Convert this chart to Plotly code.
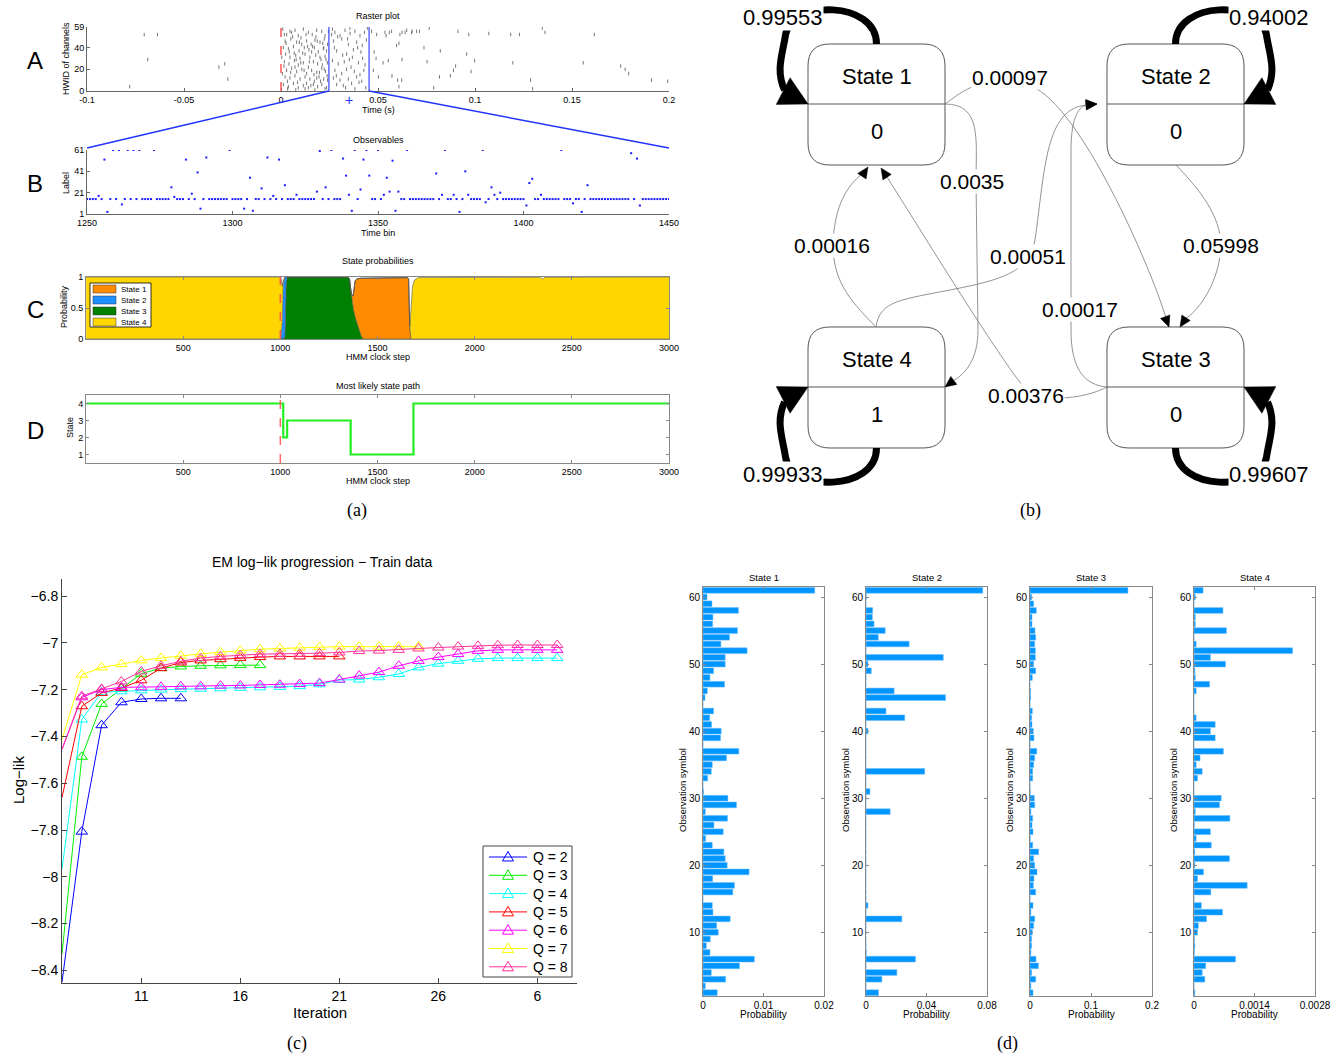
import math
import plotly.graph_objects as go

W, H = 1338, 1055
FONT = "Liberation Sans, Arial, Helvetica, sans-serif"
SERIF = "Liberation Serif, Times New Roman, serif"

# ====================== DATA ======================
# (a) A: raster plot spikes (time in s, channel HWID)
raster_spikes = [
    (-0.078, 4), (-0.0705, 52), (-0.0637, 52), (-0.0687, 29), (-0.032, 22), (-0.029, 25), (-0.0274, 11),
    (0.0017, 52), (0.0029, 52), (0.0046, 55), (0.0072, 56), (0.0089, 51), (0.0115, 57), (0.0141, 54),
    (0.0161, 52), (0.0184, 56), (0.0210, 55), (0.0227, 51),
    (0.0021, 46), (0.0051, 48), (0.0081, 45), (0.0103, 49), (0.0132, 46), (0.0155, 43), (0.0175, 47),
    (0.0201, 45), (0.0223, 48), (0.0240, 43),
    (0.0012, 40), (0.0038, 39), (0.0064, 41), (0.0093, 37), (0.0120, 40), (0.0144, 38), (0.0172, 40),
    (0.0192, 36), (0.0218, 39), (0.0235, 37),
    (0.0024, 34), (0.0046, 31), (0.0076, 33), (0.0098, 30), (0.0124, 34), (0.0149, 31), (0.0179, 33),
    (0.0206, 29), (0.0227, 32),
    (0.0017, 27), (0.0041, 25), (0.0069, 28), (0.0089, 24), (0.0115, 26), (0.0141, 22), (0.0167, 27),
    (0.0189, 25), (0.0213, 24), (0.0239, 26),
    (0.0029, 19), (0.0055, 21), (0.0081, 18), (0.0107, 20), (0.0132, 16), (0.0158, 19), (0.0184, 17),
    (0.0210, 21), (0.0230, 18),
    (0.0021, 13), (0.0046, 12), (0.0072, 14), (0.0098, 11), (0.0124, 13), (0.0149, 11), (0.0172, 9),
    (0.0196, 13), (0.0220, 11), (0.0240, 10),
    (0.0012, 6), (0.0038, 4), (0.0064, 7), (0.0089, 3), (0.0115, 5), (0.0141, 3), (0.0167, 6),
    (0.0189, 4), (0.0210, 6), (0.0235, 3),
    (0.0034, 2), (0.0076, 1), (0.0124, 2), (0.0175, 1), (0.0227, 2),
    (0.0055, 54), (0.0107, 43), (0.0158, 36), (0.0201, 31), (0.0072, 22), (0.0132, 7), (0.0184, 12),
    (0.0007, 16), (0.0004, 31), (0.0223, 20),
    (0.0009, 57), (0.0026, 44), (0.0043, 36), (0.0060, 50), (0.0078, 29), (0.0095, 45), (0.0112, 35),
    (0.0129, 52), (0.0146, 27), (0.0163, 41), (0.0180, 50), (0.0198, 17), (0.0215, 44), (0.0232, 29),
    (0.0244, 55), (0.0015, 23), (0.0033, 9), (0.0050, 17), (0.0068, 35), (0.0085, 8), (0.0102, 26),
    (0.0119, 19), (0.0137, 41), (0.0154, 5), (0.0170, 15), (0.0187, 46), (0.0204, 9), (0.0221, 40),
    (0.0238, 14),
    (0.0261, 52), (0.0278, 54), (0.0304, 51), (0.0330, 56), (0.0356, 53), (0.0381, 55), (0.0407, 51),
    (0.0430, 54), (0.0270, 46), (0.0313, 48), (0.0347, 43), (0.0390, 45), (0.0419, 42),
    (0.0287, 37), (0.0338, 34), (0.0373, 38), (0.0412, 36),
    (0.0265, 28), (0.0295, 25), (0.0326, 27), (0.0361, 22), (0.0399, 26), (0.0433, 24),
    (0.0278, 19), (0.0313, 16), (0.0338, 20), (0.0378, 18), (0.0407, 15),
    (0.0270, 12), (0.0304, 10), (0.0347, 11), (0.0390, 13),
    (0.0287, 6), (0.0321, 5), (0.0364, 7), (0.0416, 9), (0.0437, 3), (0.0381, 2),
    (0.0275, 40), (0.0292, 50), (0.0318, 33), (0.0343, 48), (0.0368, 31), (0.0395, 40), (0.0421, 30),
    (0.0440, 47), (0.0285, 14), (0.0333, 3), (0.0352, 29), (0.0402, 8), (0.0427, 19), (0.0265, 57),
    (0.0355, 58), (0.0445, 58),
    (0.0467, 55), (0.0493, 52), (0.0536, 54), (0.0570, 55), (0.0613, 52), (0.0648, 56), (0.0673, 54),
    (0.0476, 19), (0.0502, 13), (0.0553, 28), (0.0596, 42), (0.0622, 10),
    (0.048, 36), (0.049, 30), (0.0526, 26), (0.0542, 51), (0.0558, 54), (0.0572, 14), (0.0601, 10),
    (0.0608, 4), (0.0624, 54), (0.064, 54), (0.0676, 55), (0.0699, 55), (0.0714, 55), (0.0608, 44),
    (0.0624, 29), (0.0764, 58), (0.0737, 40), (0.0753, 27), (0.0787, 3), (0.0821, 37), (0.0817, 13),
    (0.0873, 14), (0.0889, 19), (0.090, 23), (0.0912, 55), (0.0957, 34), (0.098, 18), (0.0998, 28),
    (0.0968, 52), (0.1071, 53), (0.1184, 52), (0.1195, 26), (0.1229, 52), (0.1297, 2), (0.1286, 10),
    (0.1347, 58), (0.1361, 54), (0.1558, 26), (0.1615, 52), (0.1751, 23), (0.1774, 20), (0.1792, 16),
    (0.191, 10), (0.1993, 9),
]
spike_times = [s[0] for s in raster_spikes]
spike_channels = [s[1] for s in raster_spikes]
zoom_window = [0.0247, 0.0454]
stim_time = 0.0

# (a) B: observables (one label per time bin 1250..1450)
obs_bins = list(range(1250, 1451))
obs_labels = [
    15, 15, 15, 15, 18, 15, 52, 3, 15, 61,
    15, 61, 10, 15, 61, 15, 61, 15, 61, 15,
    15, 15, 15, 61, 15, 15, 15, 15, 15, 26,
    17, 15, 15, 15, 52, 15, 20, 15, 40, 6,
    15, 54, 15, 15, 15, 15, 15, 15, 15, 61,
    15, 15, 15, 15, 6, 15, 35, 4, 15, 15,
    25, 15, 54, 15, 18, 15, 52, 15, 28, 15,
    15, 15, 19, 15, 15, 15, 15, 15, 15, 22,
    60, 15, 26, 15, 61, 15, 15, 15, 53, 37,
    19, 4, 61, 15, 24, 52, 61, 37, 15, 15,
    61, 15, 19, 35, 22, 51, 4, 22, 15, 15,
    61, 15, 15, 15, 15, 15, 15, 15, 15, 15,
    39, 15, 19, 61, 15, 15, 19, 15, 3, 15,
    41, 19, 15, 15, 15, 15, 61, 12, 15, 26,
    19, 15, 21, 15, 15, 15, 15, 15, 15, 15,
    15, 9, 30, 34, 15, 15, 19, 15, 15, 15,
    15, 15, 15, 61, 15, 15, 15, 11, 15, 15,
    3, 15, 28, 15, 15, 15, 15, 15, 15, 15,
    15, 15, 15, 15, 15, 15, 15, 58, 15, 53,
    9, 15, 15, 15, 15, 15, 15, 15, 15, 15,
    15,
]

# (a) C: state probabilities
hmm_steps = [1, 995, 1003, 1010, 1015, 1024, 1030, 1036, 1345, 1356, 1365, 1375, 1385, 1395, 1405,
             1415, 1425, 1652, 1660, 1666, 1672, 1680, 1690, 1710, 2340, 2350, 2360, 3000]
p_state1 = [0, 0, 0, 0, 0, 0, 0, 0, 0, 0, 0, 0.2, 0.58, 0.72, 0.83, 0.92, 0.98,
            0.99, 0.97, 0.2, 0, 0, 0, 0, 0, 0, 0, 0]
p_state2 = [0, 0, 0, 0.3, 0.9, 0.95, 0.1, 0, 0, 0, 0, 0, 0, 0, 0, 0, 0,
            0, 0, 0, 0, 0, 0, 0, 0, 0, 0, 0]
p_state3 = [0, 0, 0, 0, 0, 0.05, 0.9, 1, 1, 0.97, 0.72, 0.5, 0.36, 0.25, 0.15, 0.06, 0,
            0, 0, 0, 0, 0, 0, 0, 0, 0, 0, 0]
p_state4 = [1, 1, 1, 0.55, 0.05, 0, 0, 0, 0, 0, 0, 0, 0, 0, 0, 0, 0,
            0, 0, 0, 0.45, 0.85, 0.95, 0.99, 0.995, 0.965, 0.995, 1.0]
state_names = ["State 1", "State 2", "State 3", "State 4"]
state_colors = ["#FF8C00", "#1E90FF", "#008000", "#FFD700"]

# (a) D: most likely state path
path_steps = [1, 1015, 1035, 1362, 1685, 3000]
path_states = [4, 2, 3, 1, 4, 4]

# (b) HMM diagram
node_labels = ["State 1", "State 2", "State 3", "State 4"]
node_emission = ["0", "0", "0", "1"]
self_probs = ["0.99553", "0.94002", "0.99607", "0.99933"]
edge_probs = ["0.00097", "0.0035", "0.00016", "0.00376", "0.00051", "0.00017", "0.05998"]

# (c) EM log-likelihood progression (iterations start at 7)
em_start_iter = 7
loglik_q2 = [-8.45, -7.807, -7.352, -7.254, -7.240, -7.237, -7.237]
loglik_q3 = [-8.33, -7.487, -7.261, -7.196, -7.132, -7.108, -7.101, -7.098, -7.096, -7.095, -7.095]
loglik_q4 = [-7.966, -7.328, -7.211, -7.207, -7.203, -7.200, -7.198, -7.196, -7.194, -7.192, -7.190,
             -7.188, -7.185, -7.177, -7.159, -7.157, -7.147, -7.133, -7.105, -7.089, -7.077, -7.068,
             -7.065, -7.065, -7.065, -7.065]
loglik_q5 = [-7.661, -7.271, -7.214, -7.193, -7.160, -7.108, -7.084, -7.075, -7.070, -7.064, -7.061,
             -7.058, -7.058, -7.058, -7.058]
loglik_q6 = [-7.455, -7.233, -7.200, -7.190, -7.190, -7.188, -7.186, -7.186, -7.183, -7.182, -7.180,
             -7.179, -7.176, -7.172, -7.157, -7.140, -7.125, -7.098, -7.077, -7.061, -7.048, -7.034,
             -7.030, -7.030, -7.030, -7.030]
loglik_q7 = [-7.413, -7.136, -7.105, -7.091, -7.075, -7.065, -7.055, -7.047, -7.040, -7.033, -7.027,
             -7.024, -7.021, -7.018, -7.016, -7.016, -7.016, -7.016, -7.016]
loglik_q8 = [-7.455, -7.228, -7.197, -7.165, -7.122, -7.098, -7.079, -7.065, -7.058, -7.052, -7.048,
             -7.047, -7.047, -7.044, -7.041, -7.035, -7.033, -7.030, -7.024, -7.020, -7.016, -7.013,
             -7.010, -7.009, -7.009, -7.009]
q_names = ["Q = 2", "Q = 3", "Q = 4", "Q = 5", "Q = 6", "Q = 7", "Q = 8"]
q_colors = ["#0000FF", "#00EE00", "#00FFFF", "#FF0000", "#FF00FF", "#FFFF00", "#FF3399"]
em_ticks = [11, 16, 21, 26, 31]
em_ticktext = ["11", "16", "21", "26", "6"]

# (d) emission probabilities, symbols 1..61
symbols = list(range(1, 62))
emis_state1 = [0.00236, 0.00038, 0.00373, 0.00137, 0.00603, 0.00849, 0.00115, 0.00055, 0.0012, 0.00252,
               0.00225, 0.00449, 0.00164, 0.00153, 0, 0.00493, 0.0052, 0.00159, 0.00762, 0.004,
               0.00367, 0.00345, 0.00153, 0.00044, 0.00334, 0.00181, 0.00405, 0.00038, 0.00553, 0.00411,
               0.0001, 0, 0.00077, 0.00137, 0.00153, 0.00389, 0.00592, 0, 0.0029, 0.00301,
               0.00142, 0.0011, 0.00175, 0, 0.00033, 0.00071, 0.00356, 0.00115, 0.00175, 0.00367,
               0.00367, 0.00729, 0.00296, 0.00438, 0.0057, 0.00159, 0.00164, 0.00586, 0.00148, 0.00066,
               0.01847]
emis_state2 = [0.0083, 0, 0.0105, 0.0204, 0, 0.0327, 0.0002, 0, 0, 0,
               0, 0.0237, 0, 0.0013, 0, 0, 0, 0, 0, 0,
               0, 0, 0, 0, 0, 0, 0, 0.016, 0, 0,
               0.0026, 0, 0, 0.0388, 0, 0, 0, 0, 0, 0.0013,
               0, 0.0256, 0.0132, 0, 0.0526, 0.0186, 0, 0, 0.0035, 0.0013,
               0.0511, 0, 0.0285, 0.0081, 0.0127, 0.0053, 0.0042, 0.0044, 0, 0.0002,
               0.0772]
emis_state3 = [0.0049, 0.0016, 0.0093, 0.0027, 0.0137, 0.0099, 0.0016, 0.0027, 0.0027, 0.0038,
               0.006, 0.0077, 0.0016, 0.0049, 0, 0.0093, 0.0055, 0.0066, 0.0115, 0.0077,
               0.006, 0.0142, 0.0044, 0.0005, 0.0049, 0.0033, 0.0044, 0.0016, 0.0077, 0.0071,
               0.0005, 0, 0.0044, 0.0044, 0.006, 0.0077, 0.011, 0, 0.0066, 0.0055,
               0.0033, 0.0027, 0.0038, 0, 0.0011, 0.0011, 0, 0.0038, 0.0093, 0.006,
               0.0088, 0.0088, 0.0077, 0.0093, 0.0082, 0.0033, 0.0033, 0.0104, 0.006, 0.0027,
               0.1605]
emis_state4 = [0.00002, 0, 0.00025, 0.00019, 0.00027, 0.00096, 0.00001, 0.00002, 0.00001, 0.00008,
               0.0001, 0.00029, 0.00066, 0.00017, 0, 0.00039, 0.00123, 0.00008, 0.00022, 0.00002,
               0.00082, 0.00002, 0.0004, 0.00005, 0.00038, 0.00001, 0.00083, 0.00003, 0.00059, 0.00063,
               0, 0, 0.00008, 0.00019, 0.00005, 0.00014, 0.00068, 0, 0.00049, 0.00038,
               0.00049, 0.00005, 0, 0, 0, 0.00005, 0.00036, 0.00003, 0.00002, 0.00073,
               0.00038, 0.00228, 0.00005, 0, 0.00075, 0.00003, 0.00003, 0.00067, 0, 0.00003,
               0.00021]
emis_ranges = [[0, 0.02], [0, 0.08], [0, 0.2], [0, 0.0028]]
emis_ticks = [[0, 0.01, 0.02], [0, 0.04, 0.08], [0, 0.1, 0.2], [0, 0.0014, 0.0028]]
emis_ticktext = [["0", "0.01", "0.02"], ["0", "0.04", "0.08"], ["0", "0.1", "0.2"], ["0", "0.0014", "0.0028"]]

# ====================== LAYOUT HELPERS ======================
def dom_x(l, r):
    return [l / W, r / W]


def dom_y(t, b):
    return [1 - b / H, 1 - t / H]


def px(x):
    return x / W


def py(y):
    return 1 - y / H


def axis(domain, rng, anchor, tickvals, ticktext=None, size=9, mirror=False, linecolor="#666",
         ticklen=3, **kw):
    d = dict(domain=domain, range=rng, anchor=anchor, showgrid=False, zeroline=False,
             showline=True, linecolor=linecolor, linewidth=1, mirror=("ticks" if mirror else False),
             ticks="inside", ticklen=ticklen, tickcolor=linecolor, tickwidth=1, automargin=False,
             tickvals=tickvals, tickfont=dict(family=FONT, size=size, color="black"))
    if ticktext is not None:
        d["ticktext"] = ticktext
    d.update(kw)
    return d


annotations = []
shapes = []


def text(t, x, y, size, angle=0, family=FONT, color="black", bg=None, xanchor="center"):
    d = dict(text=t, x=px(x), y=py(y), xref="paper", yref="paper", showarrow=False,
             font=dict(size=size, family=family, color=color), textangle=angle,
             xanchor=xanchor, yanchor="middle")
    if bg:
        d["bgcolor"] = bg
        d["borderpad"] = 0
    annotations.append(d)


def P(cmds):
    out = []
    for c in cmds:
        op, nums = c[0], c[1:]
        pts = [f"{px(nums[i]):.5f},{py(nums[i + 1]):.5f}" for i in range(0, len(nums), 2)]
        out.append((op + " " + " ".join(pts)).strip())
    return " ".join(out)


def path_shape(cmds, color="#666", width=0.8, fill=None, layer="above"):
    s = dict(type="path", path=P(cmds), xref="paper", yref="paper",
             line=dict(color=color, width=width), layer=layer)
    if fill:
        s["fillcolor"] = fill
    shapes.append(s)


def arrowhead(tip, d, L=11, w=5, color="black"):
    n = math.hypot(d[0], d[1])
    ux, uy = d[0] / n, d[1] / n
    bx, by = tip[0] - L * ux, tip[1] - L * uy
    nx, ny = -uy, ux
    path_shape([("M", tip[0], tip[1]), ("L", bx + w * nx, by + w * ny), ("L", bx - w * nx, by - w * ny),
                ("Z",)], color=color, width=0.5, fill=color)


def rect(x0, y0, x1, y1, line="#000", width=1, fill=None):
    s = dict(type="rect", xref="paper", yref="paper", x0=px(x0), x1=px(x1), y0=py(y1), y1=py(y0),
             line=dict(color=line, width=width), layer="above")
    if fill:
        s["fillcolor"] = fill
    shapes.append(s)


fig = go.Figure()

# ---------------- panel A: raster ----------------
A_BOX = (87, 669, 27, 91)
A_RANGE = [-0.1, 0.2]
fig.add_trace(go.Scatter(x=spike_times, y=spike_channels, mode="markers", xaxis="x", yaxis="y",
                         marker=dict(symbol="line-ns", size=2.5, line=dict(width=1, color="#777")),
                         showlegend=False, hoverinfo="skip"))
shapes.append(dict(type="line", xref="x", yref="y", x0=stim_time, x1=stim_time, y0=0, y1=59,
                   line=dict(color="#ff5555", width=1.5, dash="dash")))
for t in zoom_window:
    shapes.append(dict(type="line", xref="x", yref="y", x0=t, x1=t, y0=0, y1=59,
                       line=dict(color="#3344ff", width=1.2)))


def a_px(t):
    return A_BOX[0] + (t - A_RANGE[0]) / (A_RANGE[1] - A_RANGE[0]) * (A_BOX[1] - A_BOX[0])


B_BOX = (87, 669, 150, 214)
shapes.append(dict(type="line", xref="paper", yref="paper", x0=px(a_px(zoom_window[0])), y0=py(A_BOX[3]),
                   x1=px(B_BOX[0]), y1=py(B_BOX[2] - 2), line=dict(color="#2233ff", width=1.5)))
shapes.append(dict(type="line", xref="paper", yref="paper", x0=px(a_px(zoom_window[1])), y0=py(A_BOX[3]),
                   x1=px(B_BOX[1]), y1=py(B_BOX[2] - 2), line=dict(color="#2233ff", width=1.5)))
text("+", a_px((zoom_window[0] + zoom_window[1]) / 2), 100, 14, color="#2233ff")

# ---------------- panel B: observables ----------------
fig.add_trace(go.Scatter(x=obs_bins, y=obs_labels, mode="markers", xaxis="x2", yaxis="y2",
                         marker=dict(symbol="square", size=2, color="#1a1aff"),
                         showlegend=False, hoverinfo="skip"))

# ---------------- panel C: state probabilities ----------------
stack_order = [2, 0, 1, 3]
probs = [p_state1, p_state2, p_state3, p_state4]
for i in stack_order:
    fig.add_trace(go.Scatter(x=hmm_steps, y=probs[i], mode="lines", stackgroup="one",
                             xaxis="x3", yaxis="y3", fillcolor=state_colors[i],
                             line=dict(color="#555", width=0.6), name=state_names[i],
                             showlegend=False, hoverinfo="skip"))
shapes.append(dict(type="line", xref="x3", yref="y3", x0=1000, x1=1000, y0=0, y1=1.04,
                   line=dict(color="#ff5555", width=1.5, dash="dash")))
# legend box for panel C
rect(90, 283, 151, 327, line="#000", width=0.8, fill="white")
for i in range(4):
    rect(93, 285 + 11 * i, 116, 293 + 11 * i, line="#333", width=0.5, fill=state_colors[i])
    text(state_names[i], 119, 289.5 + 11 * i, 8, xanchor="left")

# ---------------- panel D: most likely state path ----------------
fig.add_trace(go.Scatter(x=path_steps, y=path_states, mode="lines", line_shape="hv",
                         line=dict(color="#22ee22", width=2.2), xaxis="x4", yaxis="y4",
                         showlegend=False, hoverinfo="skip"))
shapes.append(dict(type="line", xref="x4", yref="y4", x0=1000, x1=1000, y0=0.5, y1=4.5,
                   line=dict(color="#ff6666", width=1.5, dash="dash")))

# ---------------- panel (c): EM log-lik ----------------
logliks = [loglik_q2, loglik_q3, loglik_q4, loglik_q5, loglik_q6, loglik_q7, loglik_q8]
for name, col, ll in zip(q_names, q_colors, logliks):
    iters = list(range(em_start_iter, em_start_iter + len(ll)))
    fig.add_trace(go.Scatter(x=iters[:2], y=ll[:2], mode="lines", line=dict(color=col, width=1),
                             xaxis="x5", yaxis="y5", showlegend=False, hoverinfo="skip"))
    fig.add_trace(go.Scatter(x=iters[1:], y=ll[1:], mode="lines+markers", name=name,
                             line=dict(color=col, width=1),
                             marker=dict(symbol="triangle-up-open", size=10, color=col,
                                         line=dict(width=1, color=col)),
                             xaxis="x5", yaxis="y5", showlegend=False, hoverinfo="skip"))
# legend key for panel (c)
rect(483, 846, 572, 977, line="#444", width=1, fill="white")
for i, (name, col) in enumerate(zip(q_names, q_colors)):
    yc = 857 + 18.3 * i
    shapes.append(dict(type="line", xref="paper", yref="paper", x0=px(489), x1=px(527), y0=py(yc), y1=py(yc),
                       line=dict(color=col, width=1), layer="above"))
    path_shape([("M", 508, yc - 5.5), ("L", 513.5, yc + 4), ("L", 502.5, yc + 4), ("Z",)],
               color=col, width=1, fill="rgba(255,255,255,0)")
    text(name, 531, yc, 14, xanchor="left")

# ---------------- panel (d): emission bars ----------------
emis = [emis_state1, emis_state2, emis_state3, emis_state4]
D_X = [(703, 824), (866, 987), (1030, 1152), (1194, 1315)]
for k in range(4):
    fig.add_trace(go.Bar(x=emis[k], y=symbols, orientation="h", width=0.85,
                         marker=dict(color="#0096ff", line=dict(color="#66bbff", width=0.5)),
                         xaxis=f"x{6 + k}", yaxis=f"y{6 + k}", showlegend=False, hoverinfo="skip"))

# ---------------- panel (b): HMM state diagram ----------------
node_boxes = [(808, 44, 945, 165), (1107, 44, 1244, 165), (1107, 327, 1244, 448), (808, 327, 945, 448)]
for name, emi, (x0, y0, x1, y1) in zip(node_labels, node_emission, node_boxes):
    r = 22
    path_shape([("M", x0 + r, y0), ("L", x1 - r, y0), ("Q", x1, y0, x1, y0 + r), ("L", x1, y1 - r),
                ("Q", x1, y1, x1 - r, y1), ("L", x0 + r, y1), ("Q", x0, y1, x0, y1 - r),
                ("L", x0, y0 + r), ("Q", x0, y0, x0 + r, y0), ("Z",)], color="#555", width=1)
    shapes.append(dict(type="line", xref="paper", yref="paper", x0=px(x0), x1=px(x1),
                       y0=py(y0 + 60), y1=py(y0 + 60), line=dict(color="#555", width=1)))
    cx = (x0 + x1) / 2
    text(name, cx, y0 + 33, 22)
    text(emi, cx, y0 + 87, 22)

# self loops: (node index, side, vertical)
loop_specs = [(0, -1, -1), (1, 1, -1), (2, 1, 1), (3, -1, 1)]
for (idx, s, v) in loop_specs:
    x0, y0, x1, y1 = node_boxes[idx]
    cx = (x0 + x1) / 2
    ys = y0 if v < 0 else y1
    path_shape([("M", cx, ys),
                ("C", cx, ys + 44 * v, cx + 86 * s, ys + 44 * v, cx + 91 * s, ys + 9 * v),
                ("C", cx + 94 * s, ys - 11 * v, cx + 101 * s, ys - 26 * v, cx + 92 * s, ys - 46 * v)],
               color="black", width=7)
    tip = (x0 if s < 0 else x1, y0 + 60)
    arrowhead(tip, (-s * 0.887, -v * 0.461), L=28, w=15)
    text(self_probs[idx], cx + 93.5 * s, ys + 26 * v, 22, bg="white")

# transitions between states
edge_paths = [
    [("M", 945, 104), ("C", 955, 97, 963, 90, 975, 86), ("L", 1031, 86), ("C", 1080, 105, 1150, 265, 1166, 318)],
    [("M", 945, 104), ("C", 982, 104, 976, 140, 976, 181), ("L", 978, 330), ("C", 978, 360, 965, 374, 953, 381)],
    [("M", 876, 327), ("C", 855, 305, 833, 285, 833, 245), ("C", 834, 205, 848, 185, 862, 174)],
    [("M", 1107, 387), ("C", 1090, 396, 1060, 402, 1030, 395), ("C", 1000, 360, 930, 245, 887, 177)],
    [("M", 876, 327), ("C", 880, 300, 900, 300, 960, 288), ("C", 1010, 278, 1030, 268, 1035, 240),
     ("C", 1045, 170, 1045, 108, 1087, 105)],
    [("M", 1107, 387), ("C", 1085, 385, 1071, 370, 1071, 330), ("L", 1071, 150),
     ("C", 1071, 115, 1080, 106, 1087, 105)],
    [("M", 1176, 165), ("C", 1200, 190, 1220, 215, 1221, 245), ("C", 1220, 280, 1200, 310, 1185, 319)],
]
edge_tips = [((1169, 327), (0.35, 0.94)), ((945, 387), (-0.8, 0.6)), ((868, 167), (0.55, -0.83)),
             ((881, 168), (-0.55, -0.83)), ((1097, 104), (1, -0.05)), ((1097, 104), (1, -0.1)),
             ((1180, 327), (-0.55, 0.84))]
edge_label_pos = [(1010, 78), (972, 181), (832, 245), (1026, 395), (1028, 257), (1080, 310), (1221, 245)]
for pth, (tip, d), lbl, pos in zip(edge_paths, edge_tips, edge_probs, edge_label_pos):
    path_shape(pth, color="#777", width=0.8)
    arrowhead(tip, d)
    text(lbl, pos[0], pos[1], 21, bg="white")

# ---------------- texts ----------------
for t, y in [("Raster plot", 16), ("Observables", 140), ("State probabilities", 261),
             ("Most likely state path", 386)]:
    text(t, 378, y, 9)
for t, y in [("Time (s)", 110), ("Time bin", 233), ("HMM clock step", 357), ("HMM clock step", 481)]:
    text(t, 378, y, 9)
for t, x, y in [("HWID of channels", 66, 59), ("Label", 66, 183), ("Probability", 64, 307), ("State", 70, 428)]:
    text(t, x, y, 9, angle=-90)
for t, y in [("A", 60), ("B", 183), ("C", 309), ("D", 430)]:
    text(t, 35, y, 24)
text("(a)", 357, 510, 18, family=SERIF)
text("(b)", 1030, 510, 18, family=SERIF)
text("(c)", 297, 1043, 18, family=SERIF)
text("(d)", 1008, 1043, 18, family=SERIF)
text("EM log\u2212lik progression \u2212 Train data", 322, 562, 14)
text("Iteration", 320, 1012, 15)
text("Log\u2212lik", 18, 780, 15, angle=-90)
for k, (l, r) in enumerate(D_X):
    cx = (l + r) / 2
    text(state_names[k], cx, 577, 9.5)
    text("Probability", cx, 1014, 10)
    text("Observation symbol", l - 21, 790, 9.5, angle=-90)

# ---------------- axes ----------------
layout_axes = dict(
    xaxis=axis(dom_x(87, 669), A_RANGE, "y", [-0.1, -0.05, 0, 0.05, 0.1, 0.15, 0.2],
               ["-0.1", "-0.05", "0", "0.05", "0.1", "0.15", "0.2"]),
    yaxis=axis(dom_y(27, 91), [0, 59], "x", [0, 20, 40, 59]),
    xaxis2=axis(dom_x(87, 669), [1250, 1450], "y2", [1250, 1300, 1350, 1400, 1450]),
    yaxis2=axis(dom_y(150, 214), [1, 61], "x2", [1, 21, 41, 61]),
    xaxis3=axis(dom_x(86, 669), [0, 3000], "y3", [500, 1000, 1500, 2000, 2500, 3000],
                ["500", "1000", "1500", "2000", "2500", "3000"], mirror=True, linecolor="#888"),
    yaxis3=axis(dom_y(277, 339), [0, 1], "x3", [0, 0.5, 1], ["0", "0.5", "1"], mirror=True, linecolor="#888"),
    xaxis4=axis(dom_x(86, 669), [0, 3000], "y4", [500, 1000, 1500, 2000, 2500, 3000],
                ["500", "1000", "1500", "2000", "2500", "3000"], mirror=True, linecolor="#888"),
    yaxis4=axis(dom_y(395, 463), [0.5, 4.5], "x4", [1, 2, 3, 4], mirror=True, linecolor="#888"),
    xaxis5=axis(dom_x(62, 577), [7, 33], "y5", em_ticks, em_ticktext, size=14, linecolor="#444", ticklen=5),
    yaxis5=axis(dom_y(579, 983), [-8.454, -6.727], "x5",
                [-8.4, -8.2, -8, -7.8, -7.6, -7.4, -7.2, -7, -6.8], size=14, linecolor="#444", ticklen=5),
)
for k, (l, r) in enumerate(D_X):
    layout_axes[f"xaxis{6 + k}"] = axis(dom_x(l, r), emis_ranges[k], f"y{6 + k}", emis_ticks[k],
                                        emis_ticktext[k], size=10, mirror=True, linecolor="#888")
    layout_axes[f"yaxis{6 + k}"] = axis(dom_y(587, 996), [0.5, 61.5], f"x{6 + k}",
                                        [10, 20, 30, 40, 50, 60], size=10, mirror=True, linecolor="#888")

fig.update_layout(
    width=W, height=H, margin=dict(l=0, r=0, t=0, b=0, pad=0, autoexpand=False),
    paper_bgcolor="white", plot_bgcolor="white",
    font=dict(family=FONT, color="black"),
    showlegend=False,
    annotations=annotations, shapes=shapes, bargap=0.2,
    **layout_axes,
)

fig.write_html("out.html", config={"displayModeBar": False},
               post_script="document.body.style.margin='0';document.body.style.overflow='hidden';")
